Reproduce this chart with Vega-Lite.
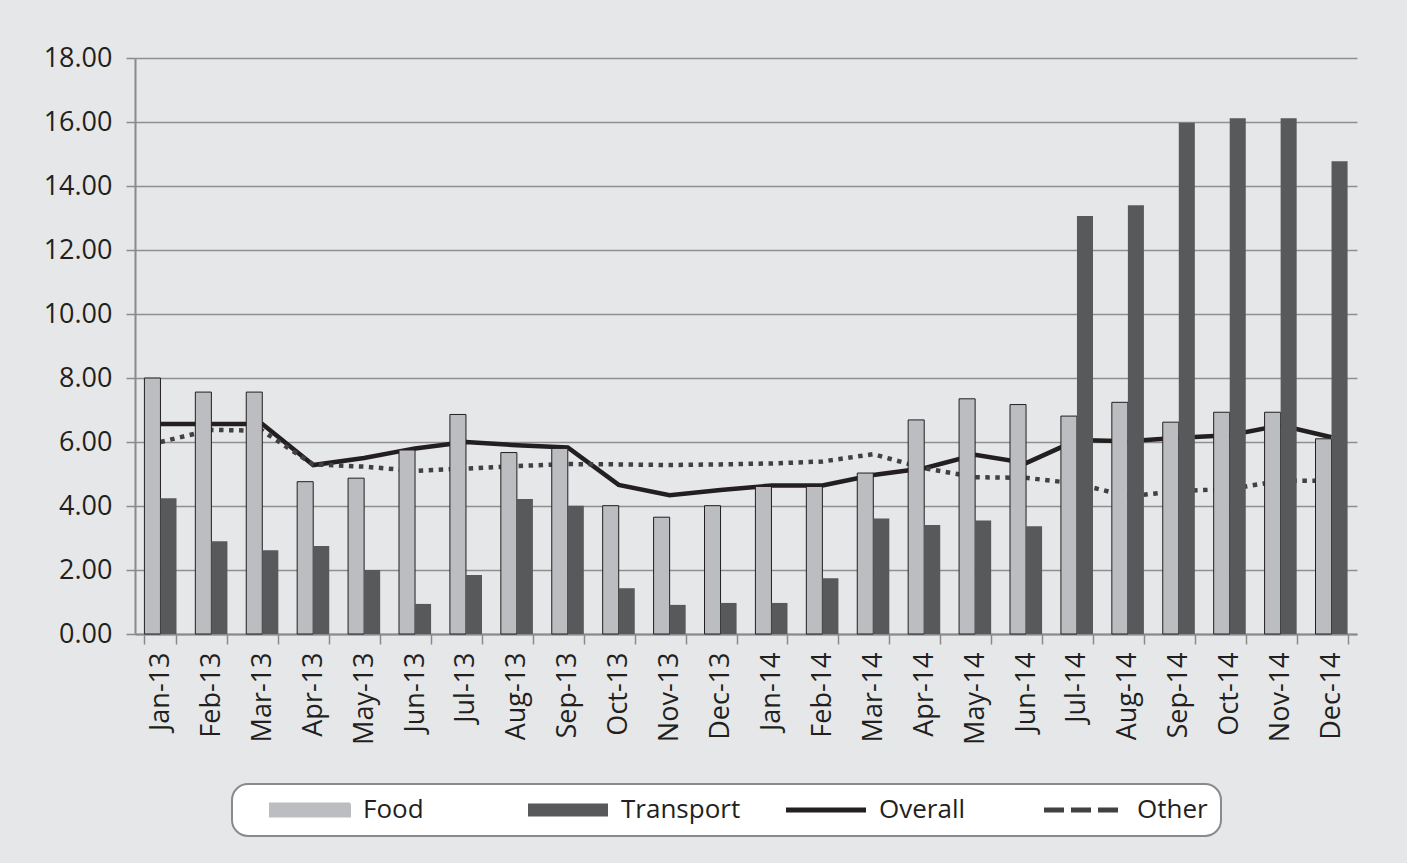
{
  "$schema": "https://vega.github.io/schema/vega-lite/v6.json",
  "width": 1222,
  "height": 576,
  "autosize": {"type": "none"},
  "padding": {"left": 135, "top": 58, "right": 50, "bottom": 229},
  "background": "#e6e7e9",
  "config": {"view": {"stroke": null}, "font": "Open Sans"},
  "data": {
    "values": [
      {"month": "Jan-13", "Food": 8.0, "Transport": 4.24, "Overall": 6.56, "Other": 6.0},
      {"month": "Feb-13", "Food": 7.56, "Transport": 2.9, "Overall": 6.56, "Other": 6.38},
      {"month": "Mar-13", "Food": 7.56, "Transport": 2.62, "Overall": 6.56, "Other": 6.35},
      {"month": "Apr-13", "Food": 4.76, "Transport": 2.75, "Overall": 5.28, "Other": 5.3},
      {"month": "May-13", "Food": 4.87, "Transport": 2.0, "Overall": 5.5, "Other": 5.23},
      {"month": "Jun-13", "Food": 5.75, "Transport": 0.94, "Overall": 5.8, "Other": 5.1},
      {"month": "Jul-13", "Food": 6.86, "Transport": 1.84, "Overall": 6.0, "Other": 5.17},
      {"month": "Aug-13", "Food": 5.67, "Transport": 4.22, "Overall": 5.9, "Other": 5.25},
      {"month": "Sep-13", "Food": 5.8, "Transport": 4.01, "Overall": 5.83, "Other": 5.31},
      {"month": "Oct-13", "Food": 4.01, "Transport": 1.43, "Overall": 4.66, "Other": 5.3},
      {"month": "Nov-13", "Food": 3.65, "Transport": 0.91, "Overall": 4.34, "Other": 5.28},
      {"month": "Dec-13", "Food": 4.01, "Transport": 0.97, "Overall": 4.5, "Other": 5.3},
      {"month": "Jan-14", "Food": 4.61, "Transport": 0.97, "Overall": 4.64, "Other": 5.33},
      {"month": "Feb-14", "Food": 4.61, "Transport": 1.74, "Overall": 4.64, "Other": 5.39},
      {"month": "Mar-14", "Food": 5.03, "Transport": 3.61, "Overall": 4.97, "Other": 5.62},
      {"month": "Apr-14", "Food": 6.69, "Transport": 3.41, "Overall": 5.18, "Other": 5.18},
      {"month": "May-14", "Food": 7.35, "Transport": 3.55, "Overall": 5.6, "Other": 4.9},
      {"month": "Jun-14", "Food": 7.17, "Transport": 3.37, "Overall": 5.34, "Other": 4.88},
      {"month": "Jul-14", "Food": 6.81, "Transport": 13.06, "Overall": 6.06, "Other": 4.7},
      {"month": "Aug-14", "Food": 7.24, "Transport": 13.4, "Overall": 6.02, "Other": 4.3},
      {"month": "Sep-14", "Food": 6.62, "Transport": 15.98, "Overall": 6.13, "Other": 4.47},
      {"month": "Oct-14", "Food": 6.93, "Transport": 16.12, "Overall": 6.21, "Other": 4.53},
      {"month": "Nov-14", "Food": 6.93, "Transport": 16.12, "Overall": 6.52, "Other": 4.79},
      {"month": "Dec-14", "Food": 6.1, "Transport": 14.77, "Overall": 6.15, "Other": 4.79}
    ]
  },
  "encoding": {
    "x": {
      "field": "month",
      "type": "ordinal",
      "sort": null,
      "scale": {"paddingInner": 0.37, "paddingOuter": 0.185},
      "axis": {
        "title": null,
        "labelAngle": 270,
        "tickBand": "extent",
        "tickSize": 10,
        "tickWidth": 1.5,
        "tickColor": "#8a8a8a",
        "domainColor": "#8a8a8a",
        "domainWidth": 2,
        "labelPadding": 8,
        "labelFontSize": 27,
        "labelColor": "#231f20",
        "grid": false
      }
    }
  },
  "layer": [
    {
      "transform": [{"fold": ["Overall"], "as": ["series", "value"]}],
      "mark": {"type": "line", "strokeWidth": 4.5, "strokeJoin": "miter"},
      "encoding": {
        "y": {"field": "value", "type": "quantitative"},
        "color": {"field": "series", "type": "nominal"}
      }
    },
    {
      "transform": [{"fold": ["Other"], "as": ["series", "value"]}],
      "mark": {"type": "line", "strokeWidth": 4.5, "strokeDash": [4.5, 5.5], "strokeCap": "butt"},
      "encoding": {
        "y": {"field": "value", "type": "quantitative"},
        "color": {"field": "series", "type": "nominal"}
      }
    },
    {
      "transform": [{"fold": ["Food", "Transport"], "as": ["series", "value"]}],
      "mark": {"type": "bar", "strokeWidth": 1},
      "encoding": {
        "xOffset": {"field": "series", "type": "nominal", "sort": ["Food", "Transport"]},
        "y": {
          "field": "value",
          "type": "quantitative",
          "scale": {"domain": [0, 18], "nice": false},
          "axis": {
            "title": null,
            "values": [0, 2, 4, 6, 8, 10, 12, 14, 16, 18],
            "format": ".2f",
            "grid": true,
            "gridColor": "#8f8f8f",
            "gridWidth": 1.5,
            "domainColor": "#8a8a8a",
            "domainWidth": 2,
            "tickColor": "#8a8a8a",
            "tickWidth": 1.5,
            "tickSize": 9,
            "labelPadding": 14,
            "labelFontSize": 27,
            "labelColor": "#231f20"
          }
        },
        "color": {
          "field": "series",
          "type": "nominal",
          "scale": {
            "domain": ["Food", "Transport", "Overall", "Other"],
            "range": ["#bcbdc1", "#58595b", "#231f20", "#414042"]
          },
          "legend": {
            "orient": "none",
            "legendX": 97,
            "legendY": 726,
            "direction": "horizontal",
            "title": null,
            "fillColor": "#ffffff",
            "strokeColor": "#8a8a8a",
            "cornerRadius": 16,
            "padding": 13,
            "symbolSize": 400,
            "symbolOffset": 52,
            "labelOffset": 40,
            "columnPadding": 20,
            "gridAlign": "all",
            "labelFontSize": 26,
            "labelColor": "#231f20",
            "labelLimit": 300,
            "encoding": {
              "legend": {"strokeWidth": {"value": 2}},
              "symbols": {
                "shape": {"value": {"expr": "datum.value === 'Food' || datum.value === 'Transport' ? 'M-4,-0.64H4V0.64H-4Z' : 'M-4,0H4'"}},
                "fill": {"value": {"expr": "datum.value === 'Food' ? '#bcbdc1' : datum.value === 'Transport' ? '#58595b' : 'transparent'"}},
                "stroke": {"value": {"expr": "datum.value === 'Food' ? '#8a8a8a' : datum.value === 'Transport' ? '#58595b' : '#231f20'"}},
                "strokeWidth": {"value": {"expr": "datum.value === 'Food' ? 2 : datum.value === 'Transport' ? 0 : 5"}},
                "strokeDash": {"value": {"expr": "datum.value === 'Other' ? [20, 7] : [1, 0]"}},
                "opacity": {"value": 1}
              }
            }
          }
        },
        "stroke": {
          "condition": {"test": "datum.series === 'Food'", "value": "#231f20"},
          "value": null
        }
      }
    }
  ]
}
